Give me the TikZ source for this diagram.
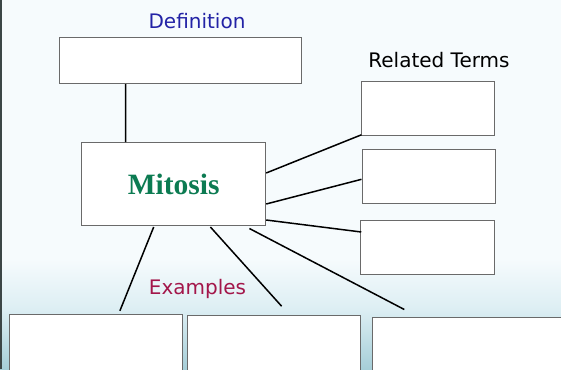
\documentclass[tikz,border=0pt]{standalone}
\usepackage{fontspec}
\setmainfont{DejaVu Sans}
\newfontfamily\serifbold{Liberation Serif}
\usetikzlibrary{calc}
\definecolor{bgtop}{HTML}{F6FBFD}
\definecolor{bgmid}{HTML}{DCEEF3}
\definecolor{bgbot}{HTML}{A6CED8}
\definecolor{boxline}{HTML}{6A6A6A}
\definecolor{defblue}{HTML}{2323A6}
\definecolor{exred}{HTML}{A3164A}
\definecolor{mitgreen}{HTML}{0C7B52}
\definecolor{edgeline}{HTML}{3C4646}
\pgfdeclareverticalshading{bgshade}{100bp}{color(0bp)=(bgbot); color(25bp)=(bgbot); color(33bp)=(bgmid); color(40bp)=(bgtop); color(100bp)=(bgtop)}
\tikzset{
  emptybox/.style={draw=boxline, line width=1pt, fill=white, inner sep=0pt, rectangle},
  label/.style={inner sep=0pt, font=\fontsize{20}{24}\selectfont},
  conn/.style={line width=1.5pt, black, line cap=butt}
}
\begin{document}
\begin{tikzpicture}[x=1pt,y=-1pt]
\useasboundingbox (0,0) rectangle (561,369);
\clip (0,0) rectangle (561,369);
% background
\shade[shading=bgshade] (0,0) rectangle (561,369);
\fill[edgeline] (0,0) rectangle (1.5,369);
% labels
\node[label, text=defblue] (tdef) at (197,20.7) {Definition};
\node[label, text=black] (trel) at (439,60) {Related Terms};
\node[label, text=exred] (tex) at (197.5,289) {Examples};
% boxes
\node[emptybox, minimum width=242pt, minimum height=46pt] (def) at (180.5,60.5) {};
\node[emptybox, minimum width=184pt, minimum height=83pt, text=mitgreen,
      font=\serifbold\bfseries\fontsize{29.5}{34}\selectfont] (mit) at (173.7,184) {Mitosis};
\node[emptybox, minimum width=133pt, minimum height=54pt] (rt1) at (428.4,108.3) {};
\node[emptybox, minimum width=133pt, minimum height=53.6pt] (rt2) at (428.5,176.5) {};
\node[emptybox, minimum width=134.7pt, minimum height=54pt] (rt3) at (427.6,247) {};
\node[emptybox, minimum width=173.2pt, minimum height=60pt] (ex1) at (95.9,344.3) {};
\node[emptybox, minimum width=172.5pt, minimum height=60pt] (ex2) at (274,345.7) {};
\node[emptybox, minimum width=195pt, minimum height=60pt] (ex3) at (469.5,347.7) {};
% connectors
\draw[conn] ([xshift=-55pt]def.south) -- ([xshift=-48.1pt]mit.north);
\draw[conn] ([yshift=11pt]mit.east) -- ([yshift=1pt]rt1.south west);
\draw[conn] ([yshift=-20pt]mit.east) -- ([yshift=-2.8pt]rt2.west);
\draw[conn] ([yshift=-36pt]mit.east) -- ([yshift=15pt,xshift=1.5pt]rt3.west);
\draw[conn] ([xshift=-20pt,yshift=-1pt]mit.south) -- ([xshift=24pt,yshift=3pt]ex1.north);
\draw[conn] ([xshift=36.7pt,yshift=-1pt]mit.south) -- ([xshift=7.6pt,yshift=9pt]ex2.north);
\draw[conn] ([xshift=75.7pt,yshift=-2.5pt]mit.south) -- ([xshift=-65.2pt,yshift=7.7pt]ex3.north);
\end{tikzpicture}
\end{document}
